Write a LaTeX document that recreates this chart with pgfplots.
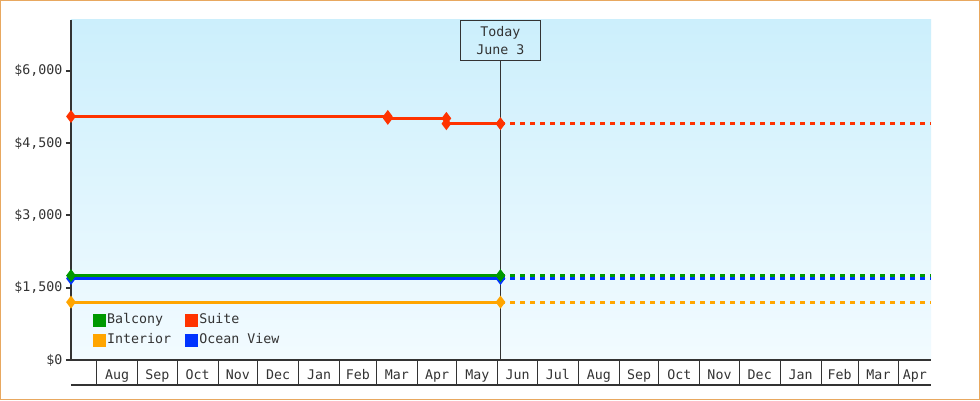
\documentclass[border=0pt]{standalone}
\usepackage{pgfplots}
\pgfplotsset{compat=1.18}
\usepackage{fontspec}
\setmainfont{DejaVu Sans Mono}
\definecolor{cgreen}{HTML}{009900}
\definecolor{cred}{HTML}{FF3300}
\definecolor{corange}{HTML}{FFA500}
\definecolor{cblue}{HTML}{0033FF}
\definecolor{cdark}{HTML}{333333}
\definecolor{cborder}{HTML}{E8A860}
\definecolor{bgtop}{HTML}{CCEFFC}
\definecolor{bgbot}{HTML}{F2FBFF}
\begin{document}
\begin{tikzpicture}
\useasboundingbox (-71pt,-40pt) rectangle (909pt,360pt);
\fill[white] (-71pt,-40pt) rectangle (909pt,360pt);
\draw[cborder, line width=1pt] (-70.5pt,-39.5pt) rectangle (908.5pt,359.5pt);
\begin{axis}[
  scale only axis, width=860pt, height=340pt,
  at={(0,0)}, anchor=south west,
  xmin=-19.5, xmax=632.3, ymin=0, ymax=7050,
  clip=false,
  axis x line*=bottom, axis y line*=left,
  x axis line style={cdark, line width=1.5pt},
  y axis line style={cdark, line width=2pt},
  axis background/.style={top color=bgtop, bottom color=bgbot},
  tick align=outside, major tick length=5pt,
  ytick={0,1500,3000,4500,6000},
  yticklabels={{\$0},{\$1,500},{\$3,000},{\$4,500},{\$6,000}},
  ytick style={cdark, line width=2pt},
  xtick={15.5,46,76.5,107,137.5,168.5,198,227.5,258,288.5,319,349.5,380.5,411,441.5,472,502.5,533.5,563,592.5,620.15},
  xticklabels={Aug,Sep,Oct,Nov,Dec,Jan,Feb,Mar,Apr,May,Jun,Jul,Aug,Sep,Oct,Nov,Dec,Jan,Feb,Mar,Apr},
  xtick style={draw=none},
  xticklabel style={anchor=base, yshift=-14pt},
  tick label style={font=\fontsize{13.3}{15}\selectfont, text=cdark},
  legend columns=2,
  legend cell align=left,
  legend image code/.code={\fill[#1] (0pt,-5pt) rectangle (10pt,5pt);},
  legend style={draw=none, fill=none, inner sep=0pt, row sep=4pt,
    font=\fontsize{13.3}{15}\selectfont, text=cdark,
    nodes={inner sep=1.5pt, text height=10pt, text depth=3pt},
    /tikz/every even column/.append style={column sep=12pt},
    at={(rel axis cs:0.025,0.034)}, anchor=south west},
  every axis plot/.append style={line width=3pt, mark=diamond*, mark size=4pt},
]
\addlegendimage{cgreen}
\addlegendentry{Balcony}
\addlegendimage{cred}
\addlegendentry{Suite}
\addlegendimage{corange}
\addlegendentry{Interior}
\addlegendimage{cblue}
\addlegendentry{Ocean View}
% dotted projections
\addplot[forget plot, cred, no marks, dash pattern=on 5pt off 5pt] coordinates {(306,4900) (632.3,4900)};
\addplot[forget plot, corange, no marks, dash pattern=on 5pt off 5pt] coordinates {(306,1200) (632.3,1200)};
\addplot[forget plot, cblue, no marks, dash pattern=on 5pt off 5pt] coordinates {(306,1690) (632.3,1690)};
\addplot[forget plot, cgreen, no marks, dash pattern=on 5pt off 5pt] coordinates {(306,1750) (632.3,1750)};
% history
\addplot[forget plot, cred, mark options={solid}] coordinates {(-19.5,5050) (220.6,5050) (220.6,5010) (265,5010) (265,4900) (306,4900)};
\addplot[forget plot, corange] coordinates {(-19.5,1200) (306,1200)};
\addplot[forget plot, cblue] coordinates {(-19.5,1690) (306,1690)};
\addplot[forget plot, cgreen] coordinates {(-19.5,1750) (306,1750)};
% month separators
\pgfplotsinvokeforeach{0,31,61,92,122,153,184,212,243,273,304,334,365,396,426,457,487,518,549,577,608}{
  \draw[cdark, line width=1pt] (axis cs:#1,0) -- ([yshift=-25pt]axis cs:#1,0);
}
\draw[cdark, line width=1.5pt] ([yshift=-25pt]rel axis cs:0,0) -- ([yshift=-25pt]rel axis cs:1,0);
% today marker
\node[draw=cdark, line width=0.8pt, minimum width=79.6pt, minimum height=40.4pt, anchor=north, align=center, inner sep=0pt,
  font=\fontsize{13.3}{18}\selectfont, text=cdark] (today) at (axis cs:306,7050) {Today\\June 3};
\draw[cdark, line width=0.8pt] (today.south) -- (axis cs:306,0);
\end{axis}
\end{tikzpicture}
\end{document}
